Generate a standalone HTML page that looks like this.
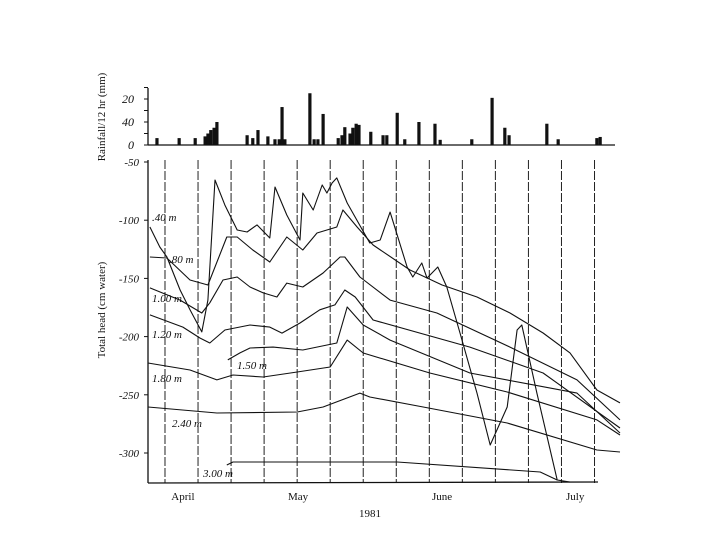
<!DOCTYPE html>
<html><head><meta charset="utf-8"><style>
html,body{margin:0;padding:0;background:#fff}
svg{display:block}
text{font-family:"Liberation Serif",serif;fill:#111}
</style></head><body>
<svg id="chart" width="720" height="540" viewBox="0 0 720 540" xmlns="http://www.w3.org/2000/svg">
<g id="rain"></g>
<g id="grid"></g>
<g id="series"></g>
<g id="axes"></g>
</svg>
<script>
const rainDays=[1.9,6.6,10,12.1,12.7,13.3,14,14.6,21,22.2,23.3,25.4,26.9,27.8,28.4,29,34.3,35.2,36,37.1,40.3,41.1,41.7,42.8,43.4,44.1,44.7,47.2,49.8,50.6,52.8,54.4,57.4,60.8,61.9,68.6,72.9,75.6,76.5,84.5,86.9,95.1,95.8];
const rainValues=[12,12,12,15,20,26,30,40,17,12,26,15,10,10,66,10,90,10,10,54,12,17,31,20,30,37,35,23,17,17,56,10,40,37,9,10,82,30,17,37,10,12,14];
const rainTickValues=[0,40,80];
const rainTickLabels=["0","40","20"];
const headTicks=[-50,-100,-150,-200,-250,-300];
const monthLabels=["April","May","June","July"];
const monthDays=[7.4,31.8,62.3,90.5];
const gridDays=[3.6,10.6,17.6,24.6,31.6,38.6,45.6,52.6,59.6,66.6,73.6,80.6,87.6,94.6];
const seriesNames=[".40 m",".80 m","1.00 m","1.20 m","1.50 m","1.80 m","2.40 m","3.00 m"];
const d40=[0.4,2.5,4,6.8,8.9,11.4,12.7,14.2,16.3,18.9,21,23.1,25.8,26.9,29.4,32.2,32.8,35,36.9,37.9,39,40,42.2,47,49.2,51.3,54.9,56.1,58,59.1,61.4,63.3,66.1,69.7,72.5,76.1,78.2,79.2,82.4,86.7];
const h40=[-105.8,-123,-131.6,-160,-177,-196,-168.6,-65.5,-87,-108.4,-110.1,-104,-115.3,-71.5,-95.5,-117,-76.6,-91.2,-69.8,-76.6,-68,-63.7,-85.2,-119.6,-117,-93,-140.2,-148.8,-136.8,-149.7,-140.2,-157.4,-196.9,-248.5,-293.1,-260.5,-194.3,-190,-248.5,-323.2];
const d80=[0.4,4,8.9,12.7,16.7,18.9,22.2,25.8,29.4,32.8,35.8,40,41.3,44.3,47.7,55.5,62.3,69.7,76.7,83.7,89.4,95.1,100];
const h80=[-131.6,-132.5,-151.4,-155.7,-114.4,-114.4,-125.6,-135.9,-114.4,-125.6,-111,-105.8,-91.2,-105.8,-121.3,-142.8,-155.7,-166,-179.7,-196.9,-214,-245.9,-257];
const d100=[0.4,6.8,11.4,13.1,15.9,18.9,21.6,24.4,27.3,29.4,32.8,37.1,40.7,41.7,44.9,51.3,61.2,76.7,90.9,100];
const h100=[-158.2,-168.6,-179.7,-171,-151.4,-148.8,-157.4,-162.5,-166,-154,-157.4,-145.4,-131.6,-131.6,-148.8,-168.6,-179.7,-209,-237.2,-271.6];
const d120=[0.4,7.4,11,13.1,16.3,21.6,25.8,28.4,32.2,36.4,39.6,41.7,43.9,47.7,68.2,83.7,100];
const h120=[-181.4,-191.8,-201.2,-205.5,-194.3,-190,-191.8,-197,-188.3,-177,-172.8,-160,-166,-185.7,-209,-231.3,-278.5];
const d150=[16.9,19.5,21.6,26.5,32.8,40,42.2,45.6,51.3,68.2,90.9,100];
const h150=[-220,-214,-209.8,-209,-211.5,-205.5,-174.6,-190,-203,-231.3,-248.5,-282.8];
const d180=[0,8.9,14.6,18,24.4,31.6,38.6,42.2,45.6,59.7,76.1,95.1,100];
const h180=[-222.7,-228.7,-237.2,-233,-234.7,-230.4,-226.1,-203,-214.1,-231.3,-247.6,-271.6,-284.5];
const d240=[0,14.6,31.6,37.1,44.9,47,58.3,76.1,95.1,100];
const h240=[-260.5,-265.6,-264.8,-260.5,-248.5,-251.9,-260.5,-274.2,-297.4,-299.1];
const d300=[16.7,18,52.8,83.1,86.7,89.4];
const h300=[-310.3,-307.7,-307.7,-316.3,-323.2,-325];

const X0=148, PXD=4.72;
const xs=d=>X0+d*PXD;
const ys=h=>162+(-50-h)*1.164;
const ry=v=>145-v*0.575;
const NS="http://www.w3.org/2000/svg";
function mk(tag,attrs,parent){const e=document.createElementNS(NS,tag);for(const k in attrs)e.setAttribute(k,attrs[k]);parent.appendChild(e);return e;}
const gRain=document.getElementById('rain'),gGrid=document.getElementById('grid'),gS=document.getElementById('series'),gA=document.getElementById('axes');

let ax=mk('line',{x1:148,y1:88,x2:148,y2:145,stroke:'#111','stroke-width':1.3},gRain);


let bl=mk('line',{x1:148,y1:145,x2:615,y2:145,stroke:'#111','stroke-width':1.3},gRain);


for(let v=0;v<=100;v+=20){mk('line',{x1:144,x2:148,y1:ry(v),y2:ry(v),stroke:'#111'},gRain);}
rainTickValues.forEach((v,i)=>{const t=mk('text',{x:134,y:ry(v)+4,'text-anchor':'end','font-size':12,'font-style':'italic'},gRain);t.textContent=rainTickLabels[i];

});
rainDays.forEach((d,i)=>{const r=mk('rect',{x:xs(d)-1.6,y:ry(rainValues[i]),width:3.2,height:145-ry(rainValues[i]),fill:'#111'},gRain);

});
let rt=mk('text',{transform:'translate(105,117) rotate(-90)','text-anchor':'middle','font-size':11},gRain);rt.textContent='Rainfall/12 hr (mm)';



gridDays.forEach(d=>{const l=mk('line',{x1:xs(d),x2:xs(d),y1:160,y2:483,stroke:'#222','stroke-width':1,'stroke-dasharray':'9,2'},gGrid);

});

const all=[[d40,h40],[d80,h80],[d100,h100],[d120,h120],[d150,h150],[d180,h180],[d240,h240],[d300,h300]];
all.forEach((s,i)=>{const pts=s[0].map((d,j)=>xs(d).toFixed(1)+','+ys(s[1][j]).toFixed(1)).join(' ');
const p=mk('polyline',{points:pts,fill:'none',stroke:'#111','stroke-width':1.1,'stroke-linejoin':'round'},gS);

});
const labPos=[[152,221],[169,263],[152,302],[152,338],[237,369],[152,382],[172,427],[203,477]];
seriesNames.forEach((n,i)=>{const t=mk('text',{x:labPos[i][0],y:labPos[i][1],'font-size':11,'font-style':'italic'},gS);t.textContent=n;

});

let ya=mk('line',{x1:148,y1:160,x2:148,y2:483,stroke:'#111','stroke-width':1.3},gA);


let xa=mk('line',{x1:148,y1:483,x2:598,y2:482,stroke:'#111','stroke-width':1.3},gA);


headTicks.forEach(v=>{mk('line',{x1:144,x2:148,y1:ys(v),y2:ys(v),stroke:'#111'},gA);
const t=mk('text',{x:139,y:ys(v)+4,'text-anchor':'end','font-size':11,'font-style':'italic'},gA);t.textContent=String(v);

});
monthLabels.forEach((m,i)=>{const t=mk('text',{x:xs(monthDays[i]),y:500,'text-anchor':'middle','font-size':11},gA);t.textContent=m;

});
let yr=mk('text',{x:370,y:517,'text-anchor':'middle','font-size':11},gA);yr.textContent='1981';


let ht=mk('text',{transform:'translate(105,310) rotate(-90)','text-anchor':'middle','font-size':11},gA);ht.textContent='Total head (cm water)';


</script>
</body></html>
